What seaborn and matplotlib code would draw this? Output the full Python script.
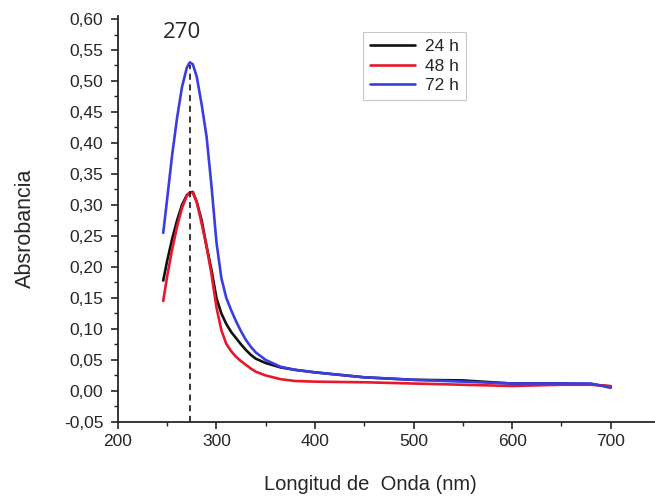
import numpy as np
import pandas as pd
import matplotlib
matplotlib.use("Agg")
import matplotlib.pyplot as plt
import seaborn as sns
from matplotlib.ticker import MultipleLocator, FuncFormatter

wl = [246, 250, 255, 260, 265, 270, 273, 276, 280, 285, 290, 295, 300, 305, 310, 315, 320,
      325, 330, 335, 340, 350, 365, 380, 400, 450, 500, 550, 600, 650, 680, 700]
a24 = [0.178, 0.210, 0.245, 0.275, 0.300, 0.316, 0.320, 0.321, 0.305, 0.275, 0.233, 0.195,
       0.150, 0.125, 0.108, 0.095, 0.085, 0.075, 0.066, 0.058, 0.052, 0.045, 0.038, 0.034,
       0.030, 0.022, 0.018, 0.017, 0.012, 0.012, 0.011, 0.007]
a48 = [0.145, 0.185, 0.228, 0.265, 0.295, 0.315, 0.320, 0.320, 0.305, 0.270, 0.233, 0.188,
       0.135, 0.098, 0.076, 0.064, 0.055, 0.048, 0.042, 0.036, 0.031, 0.025, 0.019, 0.016,
       0.015, 0.014, 0.012, 0.010, 0.008, 0.010, 0.010, 0.008]
a72 = [0.255, 0.310, 0.380, 0.440, 0.490, 0.522, 0.530, 0.527, 0.507, 0.462, 0.410, 0.330,
       0.240, 0.182, 0.150, 0.130, 0.112, 0.096, 0.082, 0.071, 0.062, 0.050, 0.039, 0.034,
       0.030, 0.022, 0.018, 0.015, 0.012, 0.012, 0.012, 0.005]
series = ["24 h", "48 h", "72 h"]
peak_wl = 273
peak_label = "270"

df = pd.DataFrame({
    "wl": wl * 3,
    "abs": a24 + a48 + a72,
    "serie": [series[0]] * len(wl) + [series[1]] * len(wl) + [series[2]] * len(wl),
})

sns.set_style("ticks")
plt.rcParams["font.family"] = ["Liberation Sans", "DejaVu Sans"]

fig = plt.figure(figsize=(6.55, 4.97), dpi=100)
ax = fig.add_axes([0.18, 0.151, 0.82, 0.817])

palette = {"24 h": "#111111", "48 h": "#e8182c", "72 h": "#3a3ee0"}
sns.lineplot(data=df, x="wl", y="abs", hue="serie", palette=palette, lw=1.9, ax=ax,
             legend=True)

ax.plot([peak_wl, peak_wl], [-0.05, 0.526], ls=(0, (4, 3)), color="black", lw=1.1)
ax.text(peak_wl - 8, 0.562, peak_label, ha="center", va="bottom", fontsize=16,
        family=["Open Sans", "DejaVu Sans"])

ax.set_xlim(200, 745)
ax.set_ylim(-0.05, 0.605)
ax.xaxis.set_major_locator(MultipleLocator(100))
ax.xaxis.set_minor_locator(MultipleLocator(50))
ax.yaxis.set_major_locator(MultipleLocator(0.05))
ax.yaxis.set_minor_locator(MultipleLocator(0.025))
ax.yaxis.set_major_formatter(FuncFormatter(lambda v, p: f"{v:.2f}".replace(".", ",").replace("-0,00", "0,00")))
ax.tick_params(axis="both", which="major", direction="out", length=5, width=1.2, labelsize=12.5)
ax.tick_params(axis="y", which="major", pad=5.5)
ax.tick_params(axis="both", which="minor", direction="out", length=3, width=1.0)
for s in ["top", "right"]:
    ax.spines[s].set_visible(False)
for s in ["left", "bottom"]:
    ax.spines[s].set_linewidth(1.3)

ax.set_xlabel("Longitud de  Onda (nm)", fontsize=14.5)
ax.set_ylabel("Absrobancia", fontsize=15.5)
ax.xaxis.set_label_coords(0.471, -0.130)
ax.yaxis.set_label_coords(-0.153, 0.478)

leg = ax.legend(loc="upper left", bbox_to_anchor=(0.456, 0.96), borderaxespad=0,
                fontsize=12.5, frameon=True, fancybox=False, edgecolor="#bbbbbb",
                handlelength=2.6, borderpad=0.4, labelspacing=0.25, handletextpad=0.6,
                title=None)
leg.get_frame().set_linewidth(0.8)

fig.savefig("out.png", dpi=100)
